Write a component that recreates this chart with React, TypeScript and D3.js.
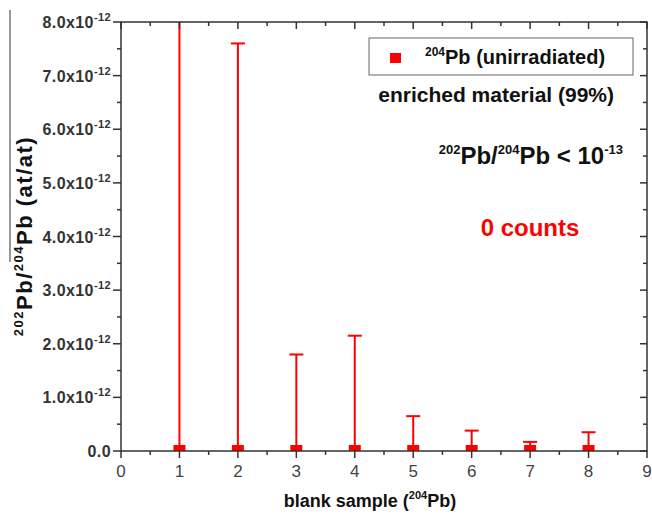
import React from 'react';
import * as d3 from 'd3';

// blank samples, measured ratio (all 0 counts) and upper error limits
const samples = [1, 2, 3, 4, 5, 6, 7, 8];
const ratios = [0, 0, 0, 0, 0, 0, 0, 0];
const upperErr = [9.0e-12, 7.6e-12, 1.8e-12, 2.15e-12, 0.65e-12, 0.38e-12, 0.17e-12, 0.35e-12];
const xTicks = [0, 1, 2, 3, 4, 5, 6, 7, 8, 9];
const yTicks = [0, 1e-12, 2e-12, 3e-12, 4e-12, 5e-12, 6e-12, 7e-12, 8e-12];
const yTickMant = ['0.0', '1.0', '2.0', '3.0', '4.0', '5.0', '6.0', '7.0', '8.0'];

const W = 652;
const H = 518;
const left = 121, right = 647, top = 22, bottom = 451;
const FONT = 'Arial, "Liberation Sans", sans-serif';
const RED = '#ff0000';

export default function App() {
  const x = d3.scaleLinear().domain([0, 9]).range([left, right]);
  const y = d3.scaleLinear().domain([0, 8e-12]).range([bottom, top]);

  const xMinor = d3.range(0.5, 9, 1);
  const yMinor = d3.range(0.5e-12, 8e-12, 1e-12);

  return (
    <svg width={W} height={H} style={{ position: 'absolute', left: 0, top: 0, background: '#fff' }}>
      <defs>
        <clipPath id="plot">
          <rect x={left} y={top} width={right - left} height={bottom - top} />
        </clipPath>
      </defs>

      {/* stray line at left edge */}
      <line x1={10} x2={10} y1={10} y2={262} stroke="#777" strokeWidth={1.5} />

      {/* data */}
      <g clipPath="url(#plot)">
        {samples.map((s, i) => {
          const cx = x(s);
          return (
            <g key={s}>
              <line x1={cx} x2={cx} y1={y(ratios[i])} y2={y(upperErr[i])} stroke={RED} strokeWidth={2} />
              <line x1={cx - 7} x2={cx + 7} y1={y(upperErr[i])} y2={y(upperErr[i])} stroke={RED} strokeWidth={2} />
              <rect x={cx - 6} y={y(ratios[i]) - 6} width={12} height={12} fill={RED} />
            </g>
          );
        })}
      </g>

      {/* frame */}
      <rect x={left} y={top} width={right - left} height={bottom - top} fill="none" stroke="#333" strokeWidth={1.5} />

      {/* bottom ticks (outward) and top ticks (inward) */}
      {xTicks.map((t) => (
        <g key={'xt' + t}>
          <line x1={x(t)} x2={x(t)} y1={bottom} y2={bottom + 7} stroke="#333" strokeWidth={1.5} />
          <line x1={x(t)} x2={x(t)} y1={top} y2={top + 7} stroke="#333" strokeWidth={1.5} />
          <text x={x(t)} y={bottom + 26} textAnchor="middle" fontFamily={FONT} fontSize={17} fill="#444">
            {t}
          </text>
        </g>
      ))}
      {xMinor.map((t) => (
        <g key={'xm' + t}>
          <line x1={x(t)} x2={x(t)} y1={bottom} y2={bottom + 4} stroke="#333" strokeWidth={1.5} />
          <line x1={x(t)} x2={x(t)} y1={top} y2={top + 4} stroke="#333" strokeWidth={1.5} />
        </g>
      ))}

      {/* left ticks (outward) and right ticks (inward) */}
      {yTicks.map((t, i) => (
        <g key={'yt' + i}>
          <line x1={left - 8} x2={left} y1={y(t)} y2={y(t)} stroke="#333" strokeWidth={1.5} />
          <line x1={right - 7} x2={right} y1={y(t)} y2={y(t)} stroke="#333" strokeWidth={1.5} />
          <text x={left - 10} y={y(t) + 6} textAnchor="end" fontFamily={FONT} fontWeight="bold" fontSize={16} letterSpacing={0.4} fill="#333">
            {i === 0 ? (
              yTickMant[i]
            ) : (
              <>
                {yTickMant[i]}x10
                <tspan fontSize={11} dy={-7}>-12</tspan>
              </>
            )}
          </text>
        </g>
      ))}
      {yMinor.map((t, i) => (
        <g key={'ym' + i}>
          <line x1={left - 4} x2={left} y1={y(t)} y2={y(t)} stroke="#333" strokeWidth={1.5} />
          <line x1={right - 4} x2={right} y1={y(t)} y2={y(t)} stroke="#333" strokeWidth={1.5} />
        </g>
      ))}

      {/* axis titles */}
      <text x={370} y={507} textAnchor="middle" fontFamily={FONT} fontWeight="bold" fontSize={18} fill="#111">
        blank sample (<tspan fontSize={11} dy={-8}>204</tspan>
        <tspan dy={8}>Pb)</tspan>
      </text>
      <text
        transform="translate(32,236) rotate(-90)"
        textAnchor="middle"
        fontFamily={FONT}
        fontWeight="bold"
        fontSize={22}
        letterSpacing={1.5}
        fill="#111"
      >
        <tspan fontSize={13} dy={-9}>202</tspan>
        <tspan dy={9}>Pb/</tspan>
        <tspan fontSize={13} dy={-9}>204</tspan>
        <tspan dy={9}>Pb (at/at)</tspan>
      </text>

      {/* legend */}
      <rect x={369} y={38} width={264} height={37} fill="#fff" stroke="#666" strokeWidth={1} />
      <rect x={390} y={53} width={11} height={10} fill={RED} />
      <text x={425} y={64} fontFamily={FONT} fontWeight="bold" fontSize={20} fill="#111">
        <tspan fontSize={12} dy={-8}>204</tspan>
        <tspan dy={8}>Pb (unirradiated)</tspan>
      </text>

      {/* annotations */}
      <text x={614} y={102} textAnchor="end" fontFamily={FONT} fontWeight="bold" fontSize={21} fill="#111">
        enriched material (99%)
      </text>
      <text x={623} y={164} textAnchor="end" fontFamily={FONT} fontWeight="bold" fontSize={24} fill="#111">
        <tspan fontSize={13} dy={-10}>202</tspan>
        <tspan dy={10}>Pb/</tspan>
        <tspan fontSize={13} dy={-10}>204</tspan>
        <tspan dy={10}>Pb &lt; 10</tspan>
        <tspan fontSize={13} dy={-10}>-13</tspan>
      </text>
      <text x={530} y={236} textAnchor="middle" fontFamily={FONT} fontWeight="bold" fontSize={24} fill={RED}>
        0 counts
      </text>
    </svg>
  );
}
